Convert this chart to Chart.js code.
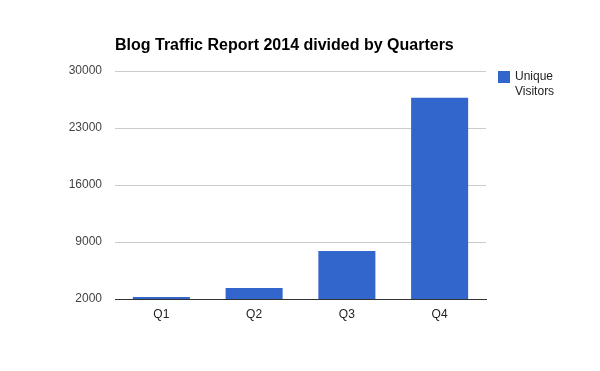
<!DOCTYPE html>
<html>
<head>
<meta charset="utf-8">
<script src="https://cdn.jsdelivr.net/npm/chart.js@4/dist/chart.umd.min.js"></script>
<style>
  html, body { margin: 0; padding: 0; background: #fff; }
  #wrap { width: 600px; height: 371px; }
</style>
</head>
<body>
<div id="wrap"><canvas id="traffic"></canvas></div>
<script>
var chartTitle = "Blog Traffic Report 2014 divided by Quarters";
var quarters = ["Q1", "Q2", "Q3", "Q4"];
var uniqueVisitors = [2250, 3350, 7900, 26700];
var seriesName = ["Unique", "Visitors"];
var yMin = 2000, yMax = 30000, yStep = 7000;

var FONT = "'Liberation Sans', Arial, sans-serif";

// title + wrapped legend drawn by hand
var extras = {
    id: "extras",
    afterDraw: function (chart) {
        var ctx = chart.ctx;
        var area = chart.chartArea;
        ctx.save();
        ctx.fillStyle = "#000";
        ctx.font = "bold 16px " + FONT;
        ctx.textAlign = "left";
        ctx.textBaseline = "alphabetic";
        ctx.fillText(chartTitle, area.left, 50);

        ctx.fillStyle = chart.data.datasets[0].backgroundColor;
        ctx.fillRect(498, 71, 12, 12);
        ctx.fillStyle = "#222";
        ctx.font = "12px " + FONT;
        ctx.textBaseline = "middle";
        for (var i = 0; i < seriesName.length; i++) {
            ctx.fillText(seriesName[i], 515, 77 + i * 15);
        }
        ctx.restore();
    }
};

new Chart(document.getElementById("traffic").getContext("2d"), {
    type: "bar",
    data: {
        labels: quarters,
        datasets: [{
            label: seriesName.join(" "),
            data: uniqueVisitors,
            backgroundColor: "#3366CC",
            barPercentage: 0.615,
            categoryPercentage: 1
        }]
    },
    options: {
        responsive: true,
        maintainAspectRatio: false,
        animation: false,
        layout: { padding: { left: 0, right: 114, top: 71, bottom: 0 } },
        plugins: {
            legend: { display: false },
            title: { display: false },
            tooltip: { enabled: false }
        },
        scales: {
            x: {
                grid: { display: false, drawTicks: false },
                border: { display: true, color: "#333", width: 1 },
                ticks: { color: "#222", font: { family: FONT, size: 12 }, padding: 8 },
                afterFit: function (s) { s.height = 72; }
            },
            y: {
                min: yMin,
                max: yMax,
                grid: {
                    drawTicks: false,
                    color: function (c) { return c.tick && c.tick.value === yMin ? "rgba(0,0,0,0)" : "#ccc"; }
                },
                border: { display: false },
                ticks: {
                    stepSize: yStep,
                    color: "#444",
                    font: { family: FONT, size: 12 },
                    padding: 13,
                    callback: function (v) { return String(v); }
                },
                afterFit: function (s) { s.width = 115; }
            }
        }
    },
    plugins: [extras]
});
</script>
</body>
</html>
